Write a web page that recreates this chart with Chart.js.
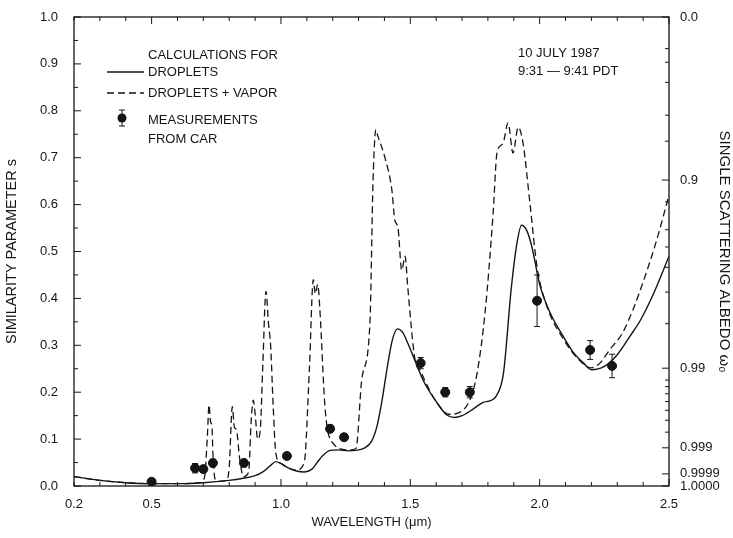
<!DOCTYPE html>
<html>
<head>
<meta charset="utf-8">
<script src="https://cdn.jsdelivr.net/npm/chart.js@4"></script>
<style>
    body { margin: 0; background: #fff; }
    canvas { display: block; }
</style>
</head>
<body>
<canvas id="chart" width="733" height="538"></canvas>
<script>
// Similarity parameter vs wavelength

// Calculations for droplets (solid)
const dropletWl = [0.2, 0.3, 0.4, 0.5, 0.6, 0.7, 0.8, 0.85, 0.9, 0.93, 0.96, 0.98, 1.0, 1.03, 1.06, 1.09,
    1.12, 1.14, 1.16, 1.19, 1.22, 1.26, 1.29, 1.32, 1.35, 1.37, 1.39, 1.41, 1.43, 1.45, 1.47, 1.49,
    1.52, 1.55, 1.6, 1.64, 1.67, 1.7, 1.74, 1.78, 1.81, 1.83, 1.86, 1.89, 1.91, 1.93, 1.95, 1.97,
    2.0, 2.04, 2.09, 2.13, 2.17, 2.2, 2.25, 2.3, 2.35, 2.39, 2.44, 2.5];
const dropletS = [0.020, 0.012, 0.007, 0.005, 0.005, 0.007, 0.012, 0.016, 0.022, 0.030, 0.044, 0.052, 0.048, 0.038, 0.032, 0.030,
    0.036, 0.050, 0.064, 0.076, 0.077, 0.075, 0.076, 0.080, 0.095, 0.125, 0.18, 0.25, 0.31, 0.335, 0.328, 0.305,
    0.265, 0.225, 0.18, 0.152, 0.146, 0.150, 0.163, 0.178, 0.182, 0.19, 0.24, 0.42, 0.51, 0.556, 0.545, 0.51,
    0.43, 0.37, 0.32, 0.285, 0.262, 0.248, 0.255, 0.28, 0.32, 0.354, 0.41, 0.49];

// Droplets + vapor (dashed)
const vaporWl = [0.2, 0.3, 0.4, 0.5, 0.6, 0.69, 0.705, 0.715, 0.722, 0.728, 0.733, 0.737, 0.745, 0.76,
    0.79, 0.80, 0.812, 0.82, 0.828, 0.84, 0.855, 0.875, 0.885, 0.893, 0.9, 0.91, 0.92, 0.93, 0.942, 0.952,
    0.96, 0.97, 0.98, 1.0, 1.06, 1.09, 1.11, 1.125, 1.133, 1.142, 1.15, 1.17, 1.19, 1.26, 1.29,
    1.313, 1.344, 1.356, 1.367, 1.375, 1.383, 1.402, 1.429, 1.44, 1.452, 1.467, 1.48, 1.49, 1.518, 1.54,
    1.56, 1.6, 1.65, 1.7, 1.735, 1.758, 1.789, 1.82, 1.835, 1.858, 1.878, 1.897, 1.917, 1.936, 1.963,
    1.99, 2.03, 2.09, 2.15, 2.2, 2.233, 2.27, 2.32, 2.36, 2.4, 2.45, 2.5];
const vaporS = [0.020, 0.012, 0.007, 0.005, 0.005, 0.007, 0.02, 0.10, 0.173, 0.136, 0.13, 0.07, 0.015, 0.010,
    0.012, 0.04, 0.169, 0.125, 0.12, 0.06, 0.02, 0.03, 0.14, 0.183, 0.155, 0.10, 0.12, 0.26, 0.415, 0.345,
    0.30, 0.17, 0.07, 0.048, 0.034, 0.05, 0.25, 0.44, 0.41, 0.43, 0.38, 0.17, 0.10, 0.077, 0.08,
    0.23, 0.348, 0.652, 0.76, 0.745, 0.733, 0.70, 0.63, 0.567, 0.552, 0.46, 0.49, 0.425, 0.27, 0.245,
    0.22, 0.18, 0.153, 0.16, 0.19, 0.24, 0.37, 0.58, 0.71, 0.73, 0.774, 0.71, 0.765, 0.73, 0.60,
    0.467, 0.38, 0.315, 0.27, 0.252, 0.262, 0.29, 0.326, 0.375, 0.435, 0.52, 0.62];

// Measurements from car
const measWl = [0.50, 0.668, 0.70, 0.737, 0.857, 1.023, 1.19, 1.244, 1.54, 1.635, 1.73, 1.99, 2.195, 2.28];
const measS = [0.009, 0.038, 0.036, 0.049, 0.049, 0.064, 0.122, 0.104, 0.262, 0.200, 0.200, 0.395, 0.290, 0.256];
const measErr = [0.004, 0.010, 0.006, 0.008, 0.008, 0.007, 0.008, 0.006, 0.012, 0.010, 0.012, 0.055, 0.020, 0.025];

// Axis ticks
const xTickVals = [0.2, 0.5, 1.0, 1.5, 2.0, 2.5];
const albedoLabels = ['0.0', '0.9', '0.99', '0.999', '0.9999', '1.0000'];
const albedoVals = [0.0, 0.9, 0.99, 0.999, 0.9999, 1.0];
const albedoMinor = [0.5, 0.6, 0.7, 0.8, 0.85, 0.92, 0.94, 0.95, 0.96, 0.97, 0.98,
    0.992, 0.993, 0.994, 0.995, 0.996, 0.997, 0.998];
const asymmetry = 0.85;

// s = sqrt((1 - w) / (1 - g w))
function albedoToS(w) {
    return Math.sqrt((1 - w) / (1 - asymmetry * w));
}

const FONT = "'Liberation Sans', Arial, sans-serif";
const INK = '#151515';

const pts = (xs, ys) => xs.map((x, i) => ({ x: x, y: ys[i] }));

const framePlugin = {
    id: 'frame',
    beforeDraw(chart) {
        const ctx = chart.ctx;
        ctx.save();
        ctx.fillStyle = '#fff';
        ctx.fillRect(0, 0, chart.width, chart.height);
        ctx.restore();
    },
    afterDraw(chart) {
        const { ctx, chartArea: a, scales } = chart;
        ctx.save();
        ctx.strokeStyle = INK;
        ctx.lineWidth = 1.3;
        ctx.strokeRect(a.left, a.top, a.right - a.left, a.bottom - a.top);

        ctx.lineWidth = 1;
        ctx.beginPath();
        // x ticks, bottom and top, pointing inward
        for (let k = 2; k <= 25; k++) {
            const v = k / 10;
            const px = scales.x.getPixelForValue(v);
            const len = (k % 5 === 0) ? 7 : 4;
            ctx.moveTo(px, a.bottom); ctx.lineTo(px, a.bottom - len);
            ctx.moveTo(px, a.top); ctx.lineTo(px, a.top + len);
        }
        // left ticks
        for (let k = 0; k <= 20; k++) {
            const py = scales.y.getPixelForValue(k / 20);
            const len = (k % 2 === 0) ? 7 : 4;
            ctx.moveTo(a.left, py); ctx.lineTo(a.left + len, py);
        }
        // right albedo ticks
        albedoVals.forEach(w => {
            const py = scales.y2.getPixelForValue(albedoToS(w));
            ctx.moveTo(a.right, py); ctx.lineTo(a.right - 7, py);
        });
        albedoMinor.forEach(w => {
            const py = scales.y2.getPixelForValue(albedoToS(w));
            ctx.moveTo(a.right, py); ctx.lineTo(a.right - 4, py);
        });
        ctx.stroke();

        // Legend
        ctx.fillStyle = INK;
        ctx.font = '13px ' + FONT;
        ctx.textBaseline = 'middle';
        ctx.textAlign = 'left';
        ctx.fillText('CALCULATIONS FOR', 148, 55);
        ctx.fillText('DROPLETS', 148, 72);
        ctx.fillText('DROPLETS + VAPOR', 148, 93);
        ctx.fillText('MEASUREMENTS', 148, 120);
        ctx.fillText('FROM CAR', 148, 139);
        ctx.fillText('10 JULY 1987', 518, 53);
        ctx.fillText('9:31 \u2014 9:41 PDT', 518, 71);

        ctx.lineWidth = 1.4;
        ctx.beginPath();
        ctx.moveTo(107, 72); ctx.lineTo(144, 72);
        ctx.stroke();
        ctx.setLineDash([7, 4]);
        ctx.beginPath();
        ctx.moveTo(107, 93); ctx.lineTo(144, 93);
        ctx.stroke();
        ctx.setLineDash([]);
        ctx.lineWidth = 1;
        ctx.beginPath();
        ctx.moveTo(122, 110); ctx.lineTo(122, 126);
        ctx.moveTo(119, 110); ctx.lineTo(125, 110);
        ctx.moveTo(119, 126); ctx.lineTo(125, 126);
        ctx.stroke();
        ctx.beginPath();
        ctx.arc(122, 118, 4.5, 0, Math.PI * 2);
        ctx.fill();
        ctx.restore();
    }
};

const errorBarPlugin = {
    id: 'errorBars',
    afterDatasetsDraw(chart) {
        const { ctx, scales } = chart;
        ctx.save();
        ctx.strokeStyle = INK;
        ctx.lineWidth = 1;
        ctx.beginPath();
        measWl.forEach((wl, i) => {
            const px = scales.x.getPixelForValue(wl);
            const top = scales.y.getPixelForValue(measS[i] + measErr[i]);
            const bot = scales.y.getPixelForValue(measS[i] - measErr[i]);
            ctx.moveTo(px, top); ctx.lineTo(px, bot);
            ctx.moveTo(px - 3, top); ctx.lineTo(px + 3, top);
            ctx.moveTo(px - 3, bot); ctx.lineTo(px + 3, bot);
        });
        ctx.stroke();
        ctx.restore();
    }
};

const chart = new Chart(document.getElementById('chart'), {
    type: 'scatter',
    data: {
        datasets: [
            {
                label: 'Measurements from car',
                data: pts(measWl, measS),
                backgroundColor: INK,
                borderColor: INK,
                pointRadius: 4.5,
                order: 0
            },
            {
                label: 'Droplets',
                data: pts(dropletWl, dropletS),
                showLine: true,
                borderColor: INK,
                borderWidth: 1.4,
                pointRadius: 0,
                cubicInterpolationMode: 'monotone',
                order: 1
            },
            {
                label: 'Droplets + vapor',
                data: pts(vaporWl, vaporS),
                showLine: true,
                borderColor: INK,
                borderWidth: 1.3,
                borderDash: [7, 4],
                pointRadius: 0,
                cubicInterpolationMode: 'monotone',
                order: 2
            }
        ]
    },
    options: {
        responsive: false,
        animation: false,
        devicePixelRatio: 1,
        layout: { padding: { top: 17, left: 0, right: 0, bottom: 0 } },
        plugins: {
            legend: { display: false },
            tooltip: { enabled: false }
        },
        scales: {
            x: {
                type: 'linear',
                min: 0.2,
                max: 2.5,
                grid: { display: false },
                border: { display: false },
                afterBuildTicks: axis => { axis.ticks = xTickVals.map(v => ({ value: v })); },
                afterFit: axis => { axis.height = 52; },
                ticks: {
                    color: INK,
                    padding: 3,
                    font: { family: FONT, size: 13 },
                    maxRotation: 0,
                    autoSkip: false,
                    callback: v => v.toFixed(1)
                },
                title: {
                    display: true,
                    text: 'WAVELENGTH (\u03bcm)',
                    color: INK,
                    font: { family: FONT, size: 13 },
                    padding: { top: 4, bottom: 8 }
                }
            },
            y: {
                min: 0,
                max: 1,
                grid: { display: false },
                border: { display: false },
                afterFit: axis => { axis.width = 74; },
                ticks: {
                    stepSize: 0.1,
                    color: INK,
                    padding: 8,
                    font: { family: FONT, size: 13 },
                    callback: v => v.toFixed(1)
                },
                title: {
                    display: true,
                    text: 'SIMILARITY PARAMETER s',
                    color: INK,
                    font: { family: FONT, size: 14.5 },
                    padding: { top: 3, bottom: 0 }
                }
            },
            y2: {
                position: 'right',
                min: 0,
                max: 1,
                grid: { display: false },
                border: { display: false },
                afterBuildTicks: axis => { axis.ticks = albedoVals.map(w => ({ value: albedoToS(w) })); },
                afterFit: axis => { axis.width = 64; },
                ticks: {
                    color: INK,
                    padding: 3,
                    autoSkip: false,
                    font: { family: FONT, size: 13 },
                    callback: (v, i) => albedoLabels[i]
                },
                title: {
                    display: true,
                    text: 'SINGLE SCATTERING ALBEDO \u03c9\u2080',
                    color: INK,
                    font: { family: FONT, size: 15 },
                    padding: { top: 0, bottom: 1 }
                }
            }
        }
    },
    plugins: [framePlugin, errorBarPlugin]
});
</script>
</body>
</html>
